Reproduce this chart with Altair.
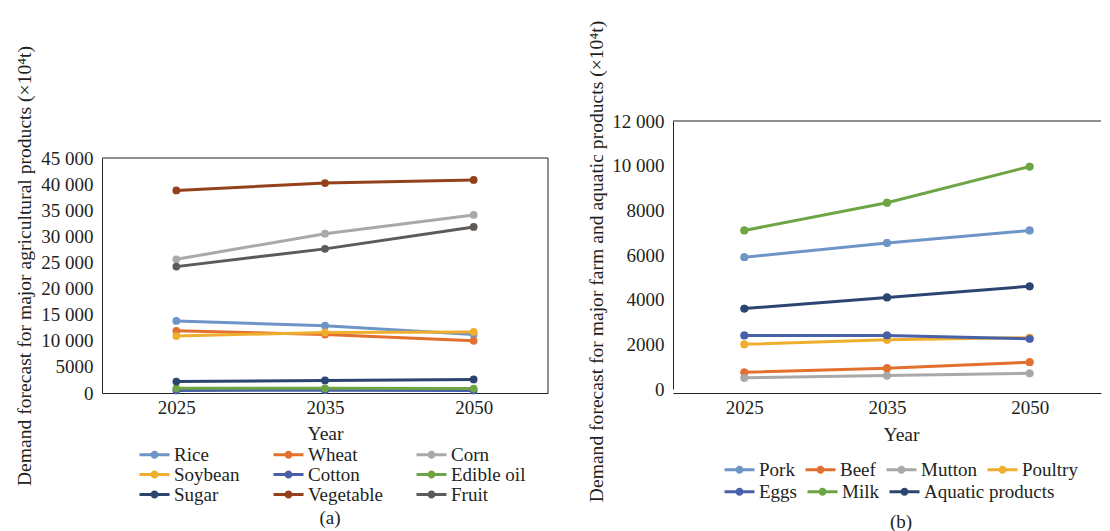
import altair as alt
import pandas as pd

FONT = "Liberation Serif"
years = ["2025", "2035", "2050"]

# ---- panel (a): major agricultural products (x10^4 t)
crops = ["Rice", "Wheat", "Corn", "Soybean", "Cotton", "Edible oil", "Sugar", "Vegetable", "Fruit"]
rice = [13800, 12900, 11200]
wheat = [11900, 11200, 10000]
corn = [25600, 30500, 34100]
soybean = [10900, 11600, 11700]
cotton = [500, 550, 500]
edible_oil = [900, 900, 850]
sugar = [2200, 2400, 2600]
vegetable = [38800, 40200, 40800]
fruit = [24200, 27600, 31800]
crop_colors = ["#6e95c8", "#e2702e", "#a9a9a9", "#f0ae2e", "#4860a8", "#6da544", "#2c4570", "#94401a", "#5e5a58"]

# ---- panel (b): farm and aquatic products (x10^4 t)
livestock = ["Pork", "Beef", "Mutton", "Poultry", "Eggs", "Milk", "Aquatic products"]
pork = [5900, 6540, 7100]
beef = [750, 930, 1200]
mutton = [500, 600, 700]
poultry = [2000, 2200, 2300]
eggs = [2400, 2400, 2250]
milk = [7100, 8340, 9960]
aquatic = [3600, 4100, 4600]
live_colors = ["#6e95c8", "#e2702e", "#a9a9a9", "#f0ae2e", "#4860a8", "#6da544", "#2c4570"]


def long_df(names, series_values):
    rows = []
    for name, vals in zip(names, series_values):
        for yr, v in zip(years, vals):
            rows.append({"series": name, "series_b": name, "year": yr, "value": v})
    return pd.DataFrame(rows)


df_a = long_df(crops, [rice, wheat, corn, soybean, cotton, edible_oil, sugar, vegetable, fruit])
df_b = long_df(livestock, [pork, beef, mutton, poultry, eggs, milk, aquatic])
one = pd.DataFrame({"k": [0]})

SYMBOL = "M-3,-0.3H3V0.3H-3Z M0.8,0A0.8,0.8 0 1 1 -0.8,0A0.8,0.8 0 1 1 0.8,0Z"
LABEL_EXPR = "datum.value >= 10000 ? replace(format(datum.value, ','), ',', ' ') : format(datum.value, 'd')"

H = 272  # common group height (both panels share the top of the row)


def legend(lx, ly, cols, colpad, values):
    return alt.Legend(title=None, orient="none", legendX=lx, legendY=ly, direction="horizontal",
                      columns=cols, gridAlign="each", columnPadding=colpad, rowPadding=0,
                      symbolType=SYMBOL, symbolSize=100, labelOffset=10, labelFont=FONT,
                      labelFontSize=19, labelColor="#231f20", values=values)


def panel(df, series, colors, W, ytop, ybot, ymax, ystep, ytitle, ytx, yty, xtx, xty,
          legends, tag, tx, ty, right_border):
    x = alt.X("year:O", sort=years, scale=alt.Scale(type="point", padding=0.5),
              axis=alt.Axis(title="Year", ticks=False, labelAngle=0, labelPadding=5,
                            titleX=xtx, titleY=xty, titleBaseline="middle"))
    y = alt.Y("value:Q", scale=alt.Scale(domain=[0, ymax], nice=False, range=[ybot, ytop]),
              axis=alt.Axis(values=list(range(0, ymax + 1, ystep)), labelExpr=LABEL_EXPR,
                            title=ytitle, titleAngle=-90, titleX=ytx, titleY=yty,
                            titleBaseline="middle", titleAlign="center",
                            ticks=False, labelPadding=9, grid=False))

    def col(field, leg):
        return alt.Color(field + ":N", sort=series,
                         scale=alt.Scale(domain=series, range=colors), legend=leg)

    base = alt.Chart(df)
    layers = [
        base.mark_line(strokeWidth=3).encode(x=x, y=y, color=col("series", None)),
        base.mark_point(filled=True, size=60, opacity=1).encode(
            x=x, y=y, color=col("series_b", legends[0])),
    ]
    if len(legends) > 1:
        layers.append(base.mark_point(filled=True, size=60, opacity=1).encode(
            x=x, y=y, color=col("series", legends[1])))
    layers.append(alt.Chart(one).mark_rule(color="#222222", strokeWidth=1).encode(
        x=alt.value(0), x2=alt.value(W), y=alt.value(ytop)))
    layers.append(alt.Chart(one).mark_text(font=FONT, fontSize=19, color="#231f20").encode(
        x=alt.value(tx), y=alt.value(ty), text=alt.value(tag)))
    if right_border:
        layers.append(alt.Chart(one).mark_rule(color="#222222", strokeWidth=1).encode(
            x=alt.value(W), y=alt.value(ytop), y2=alt.value(ybot)))
    return alt.layer(*layers).resolve_scale(color="independent").properties(width=W, height=H)


W1 = 446
W2 = 428

left_chart = panel(df_a, crops, crop_colors, W1, 37, 272, 45000, 5000,
                   "Demand forecast for major agricultural products (×10⁴t)", -78, 144.5, 223, 40,
                   [legend(43, 324, 3, 33, crops)], "(a)", 228, 397, True)

right_chart = panel(df_b, livestock, live_colors, W2, 0, 268, 12000, 2000,
                    "Demand forecast for major farm and aquatic products (×10⁴t)", -77, 140, 228, 41,
                    [legend(57, 339, 4, 10, livestock[:4]), legend(57, 361, 3, 10, livestock[4:])],
                    "(b)", 228, 401, False)

chart = alt.hconcat(left_chart, right_chart, spacing=125, bounds="flush").resolve_scale(
    color="independent", y="independent", x="independent"
).properties(
    padding={"left": 5, "top": 12, "right": 0, "bottom": 0}
).configure(font=FONT).configure_view(stroke=None).configure_axis(
    domainColor="#222222", labelColor="#231f20", titleColor="#231f20",
    labelFont=FONT, titleFont=FONT, labelFontSize=19, titleFontSize=19.6,
    titleFontWeight="normal"
)

chart.save("out.html", embed_options={"renderer": "svg", "actions": False})
